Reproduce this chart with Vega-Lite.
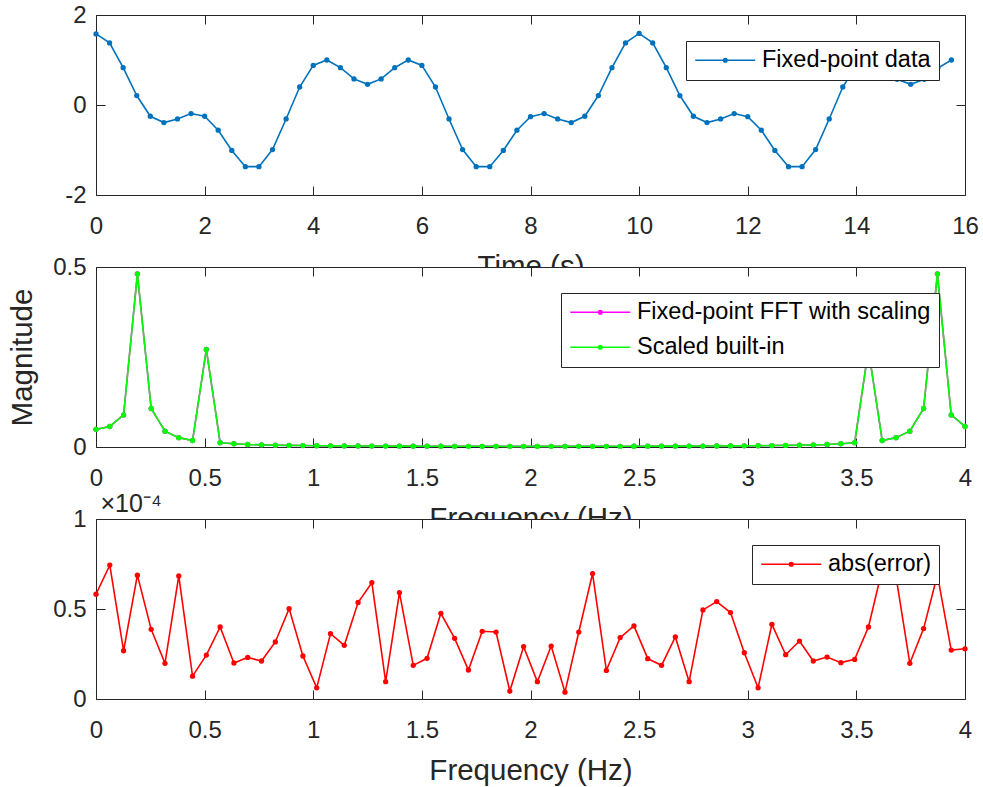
{
  "$schema": "https://vega.github.io/schema/vega-lite/v6.json",
  "background": "white",
  "autosize": {"type": "none"},
  "padding": {"left": 96, "top": 15, "right": 887, "bottom": 772},
  "bounds": "flush",
  "spacing": 72,
  "resolve": {"scale": {"color": "independent"}, "legend": {"color": "independent"}},
  "config": {
    "font": "Liberation Sans",
    "view": {"stroke": "#262626", "strokeWidth": 1, "fill": "white"},
    "axis": {
      "domain": false, "grid": false, "tickSize": -9, "tickColor": "#262626", "tickWidth": 1,
      "labelColor": "#262626", "labelFont": "Liberation Sans", "labelFontSize": 24,
      "labelFlush": false, "labelOverlap": false, "labelExpr": "'' + datum.value",
      "titleFont": "Liberation Sans", "titleFontSize": 29.5, "titleColor": "#262626", "titleFontWeight": "normal"
    },
    "axisBottom": {"labelPadding": 28},
    "axisLeft": {"labelPadding": 19},
    "legend": {
      "orient": "top-right", "offset": 26, "strokeColor": "#262626", "fillColor": "white",
      "padding": 7.5, "labelFont": "Liberation Sans", "labelFontSize": 23.5, "labelColor": "#000000", "labelLimit": 0,
      "symbolSize": 400, "symbolStrokeWidth": 1.5, "labelOffset": 45, "rowPadding": 10
    }
  },
  "datasets": {
    "signal": [
      {"t": 0, "x": 1.58}, {"t": 0.25, "x": 1.38}, {"t": 0.5, "x": 0.83}, {"t": 0.75, "x": 0.21},
      {"t": 1, "x": -0.25}, {"t": 1.25, "x": -0.39}, {"t": 1.5, "x": -0.31}, {"t": 1.75, "x": -0.19},
      {"t": 2, "x": -0.25}, {"t": 2.25, "x": -0.56}, {"t": 2.5, "x": -1.01}, {"t": 2.75, "x": -1.37},
      {"t": 3, "x": -1.37}, {"t": 3.25, "x": -0.99}, {"t": 3.5, "x": -0.31}, {"t": 3.75, "x": 0.4},
      {"t": 4, "x": 0.88}, {"t": 4.25, "x": 1.0}, {"t": 4.5, "x": 0.83}, {"t": 4.75, "x": 0.58},
      {"t": 5, "x": 0.46}, {"t": 5.25, "x": 0.58}, {"t": 5.5, "x": 0.83}, {"t": 5.75, "x": 1.0},
      {"t": 6, "x": 0.88}, {"t": 6.25, "x": 0.4}, {"t": 6.5, "x": -0.31}, {"t": 6.75, "x": -0.99},
      {"t": 7, "x": -1.37}, {"t": 7.25, "x": -1.37}, {"t": 7.5, "x": -1.01}, {"t": 7.75, "x": -0.56},
      {"t": 8, "x": -0.26}, {"t": 8.25, "x": -0.19}, {"t": 8.5, "x": -0.31}, {"t": 8.75, "x": -0.39},
      {"t": 9, "x": -0.25}, {"t": 9.25, "x": 0.21}, {"t": 9.5, "x": 0.83}, {"t": 9.75, "x": 1.38},
      {"t": 10, "x": 1.59}, {"t": 10.25, "x": 1.38}, {"t": 10.5, "x": 0.83}, {"t": 10.75, "x": 0.21},
      {"t": 11, "x": -0.25}, {"t": 11.25, "x": -0.39}, {"t": 11.5, "x": -0.31}, {"t": 11.75, "x": -0.19},
      {"t": 12, "x": -0.26}, {"t": 12.25, "x": -0.56}, {"t": 12.5, "x": -1.01}, {"t": 12.75, "x": -1.37},
      {"t": 13, "x": -1.37}, {"t": 13.25, "x": -0.99}, {"t": 13.5, "x": -0.31}, {"t": 13.75, "x": 0.4},
      {"t": 14, "x": 0.88}, {"t": 14.25, "x": 1.0}, {"t": 14.5, "x": 0.83}, {"t": 14.75, "x": 0.57},
      {"t": 15, "x": 0.46}, {"t": 15.25, "x": 0.57}, {"t": 15.5, "x": 0.82}, {"t": 15.75, "x": 1.0}
    ],
    "spectrum": [
      {"f": 0, "fixed": 0.049, "builtin": 0.049, "err": 0.0000582},
      {"f": 0.0635, "fixed": 0.057, "builtin": 0.057, "err": 0.0000744},
      {"f": 0.127, "fixed": 0.089, "builtin": 0.089, "err": 0.0000268},
      {"f": 0.1905, "fixed": 0.481, "builtin": 0.481, "err": 0.0000688},
      {"f": 0.254, "fixed": 0.107, "builtin": 0.107, "err": 0.0000387},
      {"f": 0.3175, "fixed": 0.044, "builtin": 0.044, "err": 0.0000198},
      {"f": 0.381, "fixed": 0.026, "builtin": 0.026, "err": 0.0000684},
      {"f": 0.4444, "fixed": 0.018, "builtin": 0.018, "err": 0.0000127},
      {"f": 0.5079, "fixed": 0.271, "builtin": 0.271, "err": 0.0000244},
      {"f": 0.5714, "fixed": 0.012, "builtin": 0.012, "err": 0.00004},
      {"f": 0.6349, "fixed": 0.009, "builtin": 0.009, "err": 0.00002},
      {"f": 0.6984, "fixed": 0.007, "builtin": 0.007, "err": 0.0000231},
      {"f": 0.7619, "fixed": 0.006, "builtin": 0.006, "err": 0.0000211},
      {"f": 0.8254, "fixed": 0.005, "builtin": 0.005, "err": 0.0000317},
      {"f": 0.8889, "fixed": 0.0045, "builtin": 0.0045, "err": 0.0000502},
      {"f": 0.9524, "fixed": 0.004, "builtin": 0.004, "err": 0.0000239},
      {"f": 1.0159, "fixed": 0.0035, "builtin": 0.0035, "err": 0.0000062},
      {"f": 1.0794, "fixed": 0.0032, "builtin": 0.0032, "err": 0.0000363},
      {"f": 1.1429, "fixed": 0.003, "builtin": 0.003, "err": 0.0000298},
      {"f": 1.2063, "fixed": 0.0028, "builtin": 0.0028, "err": 0.0000536},
      {"f": 1.2698, "fixed": 0.0026, "builtin": 0.0026, "err": 0.0000647},
      {"f": 1.3333, "fixed": 0.0025, "builtin": 0.0025, "err": 0.0000096},
      {"f": 1.3968, "fixed": 0.0024, "builtin": 0.0024, "err": 0.0000591},
      {"f": 1.4603, "fixed": 0.0023, "builtin": 0.0023, "err": 0.0000187},
      {"f": 1.5238, "fixed": 0.0022, "builtin": 0.0022, "err": 0.0000226},
      {"f": 1.5873, "fixed": 0.0021, "builtin": 0.0021, "err": 0.0000476},
      {"f": 1.6508, "fixed": 0.002, "builtin": 0.002, "err": 0.0000337},
      {"f": 1.7143, "fixed": 0.002, "builtin": 0.002, "err": 0.0000161},
      {"f": 1.7778, "fixed": 0.0019, "builtin": 0.0019, "err": 0.0000376},
      {"f": 1.8413, "fixed": 0.0019, "builtin": 0.0019, "err": 0.0000372},
      {"f": 1.9048, "fixed": 0.0018, "builtin": 0.0018, "err": 0.0000044},
      {"f": 1.9683, "fixed": 0.0018, "builtin": 0.0018, "err": 0.0000291},
      {"f": 2.0317, "fixed": 0.0018, "builtin": 0.0018, "err": 0.0000096},
      {"f": 2.0952, "fixed": 0.0018, "builtin": 0.0018, "err": 0.0000294},
      {"f": 2.1587, "fixed": 0.0018, "builtin": 0.0018, "err": 0.0000038},
      {"f": 2.2222, "fixed": 0.0019, "builtin": 0.0019, "err": 0.0000372},
      {"f": 2.2857, "fixed": 0.0019, "builtin": 0.0019, "err": 0.0000697},
      {"f": 2.3492, "fixed": 0.002, "builtin": 0.002, "err": 0.0000159},
      {"f": 2.4127, "fixed": 0.002, "builtin": 0.002, "err": 0.0000341},
      {"f": 2.4762, "fixed": 0.0021, "builtin": 0.0021, "err": 0.0000406},
      {"f": 2.5397, "fixed": 0.0022, "builtin": 0.0022, "err": 0.0000224},
      {"f": 2.6032, "fixed": 0.0023, "builtin": 0.0023, "err": 0.0000187},
      {"f": 2.6667, "fixed": 0.0024, "builtin": 0.0024, "err": 0.0000345},
      {"f": 2.7302, "fixed": 0.0025, "builtin": 0.0025, "err": 0.0000096},
      {"f": 2.7937, "fixed": 0.0026, "builtin": 0.0026, "err": 0.0000495},
      {"f": 2.8571, "fixed": 0.0028, "builtin": 0.0028, "err": 0.0000541},
      {"f": 2.9206, "fixed": 0.003, "builtin": 0.003, "err": 0.000048},
      {"f": 2.9841, "fixed": 0.0032, "builtin": 0.0032, "err": 0.0000257},
      {"f": 3.0476, "fixed": 0.0035, "builtin": 0.0035, "err": 0.0000062},
      {"f": 3.1111, "fixed": 0.004, "builtin": 0.004, "err": 0.0000415},
      {"f": 3.1746, "fixed": 0.0045, "builtin": 0.0045, "err": 0.0000246},
      {"f": 3.2381, "fixed": 0.005, "builtin": 0.005, "err": 0.0000322},
      {"f": 3.3016, "fixed": 0.006, "builtin": 0.006, "err": 0.0000211},
      {"f": 3.3651, "fixed": 0.007, "builtin": 0.007, "err": 0.0000233},
      {"f": 3.4286, "fixed": 0.009, "builtin": 0.009, "err": 0.0000202},
      {"f": 3.4921, "fixed": 0.012, "builtin": 0.012, "err": 0.000022},
      {"f": 3.5556, "fixed": 0.271, "builtin": 0.271, "err": 0.00004},
      {"f": 3.619, "fixed": 0.018, "builtin": 0.018, "err": 0.000072},
      {"f": 3.6825, "fixed": 0.026, "builtin": 0.026, "err": 0.000068},
      {"f": 3.746, "fixed": 0.044, "builtin": 0.044, "err": 0.0000198},
      {"f": 3.8095, "fixed": 0.107, "builtin": 0.107, "err": 0.0000391},
      {"f": 3.873, "fixed": 0.481, "builtin": 0.481, "err": 0.000069},
      {"f": 3.9365, "fixed": 0.089, "builtin": 0.089, "err": 0.0000272},
      {"f": 4.0, "fixed": 0.057, "builtin": 0.057, "err": 0.0000279}
    ]
  },
  "vconcat": [
    {
      "width": 869, "height": 180,
      "data": {"name": "signal"},
      "layer": [
        {
          "mark": {"type": "line", "strokeWidth": 1.6, "point": {"filled": true, "size": 28}},
          "encoding": {
            "x": {"field": "t", "type": "quantitative", "scale": {"domain": [0, 16], "nice": false, "zero": false},
                  "axis": {"orient": "bottom", "values": [0, 2, 4, 6, 8, 10, 12, 14, 16], "title": "Time (s)", "titleY": 80, "titleBaseline": "alphabetic"}},
            "y": {"field": "x", "type": "quantitative", "scale": {"domain": [-2, 2], "nice": false, "zero": false},
                  "axis": {"orient": "left", "values": [-2, 0, 2], "title": null}},
            "color": {"datum": "Fixed-point data", "type": "nominal", "scale": {"domain": ["Fixed-point data"], "range": ["#0072BD"]},
                      "legend": {"title": null, "symbolType": "M-1,0H5M2.08,0A0.08,0.08 0 1,1 1.92,0A0.08,0.08 0 1,1 2.08,0M2.18,0A0.18,0.18 0 1,1 1.82,0A0.18,0.18 0 1,1 2.18,0"}}
          }
        },
        {
          "mark": {"type": "point", "opacity": 0},
          "encoding": {
            "x": {"field": "t", "type": "quantitative", "axis": {"orient": "top", "values": [0, 2, 4, 6, 8, 10, 12, 14, 16], "labels": false, "title": null}},
            "y": {"field": "x", "type": "quantitative", "axis": {"orient": "right", "values": [-2, 0, 2], "labels": false, "title": null}}
          }
        }
      ],
      "resolve": {"axis": {"x": "independent", "y": "independent"}}
    },
    {
      "width": 869, "height": 180,
      "data": {"name": "spectrum"},
      "layer": [
        {
          "mark": {"type": "line", "strokeWidth": 1.6, "point": {"filled": true, "size": 28}},
          "encoding": {
            "x": {"field": "f", "type": "quantitative", "scale": {"domain": [0, 4], "nice": false, "zero": false},
                  "axis": {"orient": "bottom", "values": [0, 0.5, 1, 1.5, 2, 2.5, 3, 3.5, 4], "title": "Frequency (Hz)", "titleY": 80, "titleBaseline": "alphabetic"}},
            "y": {"field": "fixed", "type": "quantitative", "scale": {"domain": [0, 0.5], "nice": false, "zero": false},
                  "axis": {"orient": "left", "values": [0, 0.5], "title": "Magnitude", "titleX": -65, "titleBaseline": "alphabetic"}},
            "color": {"datum": "Fixed-point FFT with scaling", "type": "nominal",
                      "scale": {"domain": ["Fixed-point FFT with scaling", "Scaled built-in"], "range": ["#FF00FF", "#00FF00"]},
                      "legend": {"title": null, "symbolType": "M-1,0H5M2.08,0A0.08,0.08 0 1,1 1.92,0A0.08,0.08 0 1,1 2.08,0M2.18,0A0.18,0.18 0 1,1 1.82,0A0.18,0.18 0 1,1 2.18,0"}}
          }
        },
        {
          "mark": {"type": "line", "strokeWidth": 1.6, "point": {"filled": true, "size": 28}},
          "encoding": {
            "x": {"field": "f", "type": "quantitative", "axis": null},
            "y": {"field": "builtin", "type": "quantitative", "axis": null},
            "color": {"datum": "Scaled built-in", "type": "nominal"}
          }
        },
        {
          "mark": {"type": "point", "opacity": 0},
          "encoding": {
            "x": {"field": "f", "type": "quantitative", "axis": {"orient": "top", "values": [0, 0.5, 1, 1.5, 2, 2.5, 3, 3.5, 4], "labels": false, "title": null}},
            "y": {"field": "builtin", "type": "quantitative", "axis": {"orient": "right", "values": [0, 0.5], "labels": false, "title": null}}
          }
        }
      ],
      "resolve": {"axis": {"x": "independent", "y": "independent"}}
    },
    {
      "width": 869, "height": 180,
      "data": {"name": "spectrum"},
      "layer": [
        {
          "mark": {"type": "line", "strokeWidth": 1.6, "point": {"filled": true, "size": 28}},
          "encoding": {
            "x": {"field": "f", "type": "quantitative", "scale": {"domain": [0, 4], "nice": false, "zero": false},
                  "axis": {"orient": "bottom", "values": [0, 0.5, 1, 1.5, 2, 2.5, 3, 3.5, 4], "title": "Frequency (Hz)", "titleY": 80, "titleBaseline": "alphabetic"}},
            "y": {"field": "err", "type": "quantitative", "scale": {"domain": [0, 0.0001], "nice": false, "zero": false},
                  "axis": {"orient": "left", "values": [0, 0.00005, 0.0001], "labelExpr": "format(datum.value * 10000, '.1~f')",
                           "title": "×10⁻⁴", "titleAngle": 0, "titleX": 4, "titleY": -8, "titleAlign": "left", "titleBaseline": "alphabetic", "titleFontSize": 25}},
            "color": {"datum": "abs(error)", "type": "nominal", "scale": {"domain": ["abs(error)"], "range": ["#FF0000"]},
                      "legend": {"title": null, "symbolType": "M-1,0H5M2.08,0A0.08,0.08 0 1,1 1.92,0A0.08,0.08 0 1,1 2.08,0M2.18,0A0.18,0.18 0 1,1 1.82,0A0.18,0.18 0 1,1 2.18,0"}}
          }
        },
        {
          "mark": {"type": "point", "opacity": 0},
          "encoding": {
            "x": {"field": "f", "type": "quantitative", "axis": {"orient": "top", "values": [0, 0.5, 1, 1.5, 2, 2.5, 3, 3.5, 4], "labels": false, "title": null}},
            "y": {"field": "err", "type": "quantitative", "axis": {"orient": "right", "values": [0, 0.00005, 0.0001], "labels": false, "title": null}}
          }
        }
      ],
      "resolve": {"axis": {"x": "independent", "y": "independent"}}
    }
  ]
}
